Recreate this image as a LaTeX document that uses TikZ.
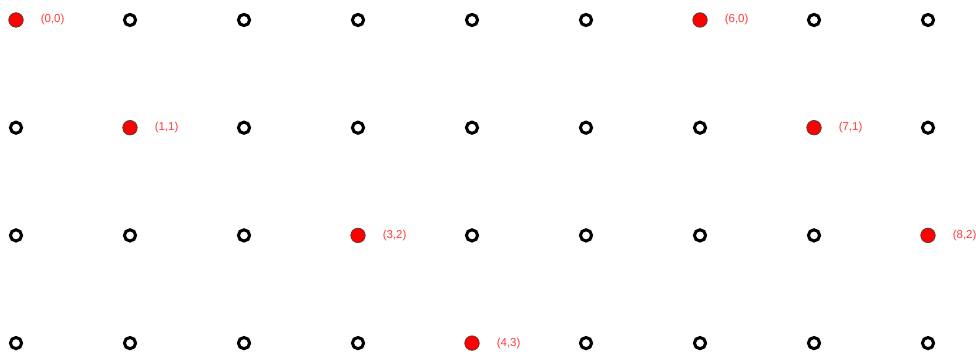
\documentclass[tikz,border=0pt]{standalone}
\usepackage{fontspec}
\setmainfont{Liberation Sans}
\definecolor{PegRed}{HTML}{FF0000}
\definecolor{TagRed}{HTML}{FF3A3A}
\usetikzlibrary{positioning}

\begin{document}
\begin{tikzpicture}[x=1pt,y=-1pt,node distance=17pt,
    hole/.style={circle,draw=black,line width=3pt,fill=white,minimum size=11.2pt,inner sep=0pt},
    peg/.style={circle,draw=black!75,line width=0.6pt,fill=PegRed,minimum size=14.6pt,inner sep=0pt},
    tag/.style={inner sep=0pt,text=TagRed,font=\fontsize{11.5}{13}\selectfont}]
  \useasboundingbox (0,0) rectangle (976,355);
  % empty holes, row by row
  \foreach \j/\cols in {0/{1,2,3,4,5,7,8},1/{0,2,3,4,5,6,8},2/{0,1,2,4,5,6,7},3/{0,1,2,3,5,6,7,8}}
    \foreach \i in \cols
      \node[hole] (h-\i-\j) at (16+114*\i,20+107.7*\j) {};
  % filled pegs with their labels
  \foreach \i/\j in {0/0,1/1,3/2,4/3,6/0,7/1,8/2} {
    \node[peg] (p-\i-\j) at (16+114*\i,20+107.7*\j) {};
    \node[tag,right=of p-\i-\j] (t-\i-\j) {(\i,\j)};
  }
\end{tikzpicture}
\end{document}
